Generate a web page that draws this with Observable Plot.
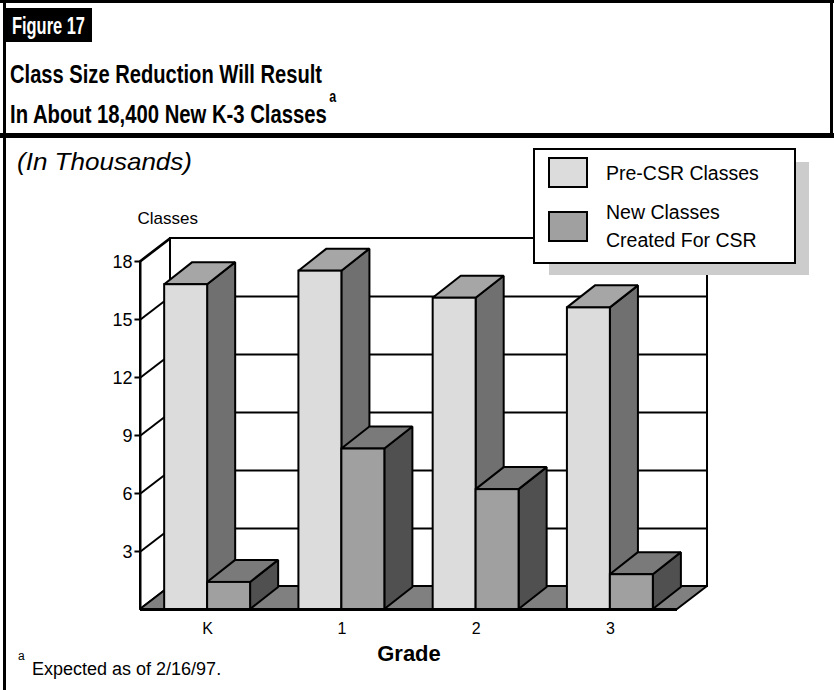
<!DOCTYPE html>
<html><head><meta charset="utf-8">
<script src="https://cdn.jsdelivr.net/npm/d3@7"></script>
<script src="https://cdn.jsdelivr.net/npm/@observablehq/plot@0.6"></script>
<style>
body{margin:0;background:#fff;}
#wrap{position:relative;width:834px;height:690px;overflow:hidden;font-family:"Liberation Sans",Arial,Helvetica,sans-serif;background:#fff;}
#chart{position:absolute;left:0;top:0;}
#deco{position:absolute;left:0;top:0;pointer-events:none;}
</style></head><body>
<div id="wrap">
<div id="chart"></div>
<svg id="deco" width="834" height="690" font-family="Liberation Sans, Arial, Helvetica, sans-serif">
  <rect x="0" y="0" width="834" height="3" fill="#000"/>
  <rect x="3" y="0" width="3" height="690" fill="#000"/>
  <rect x="830" y="0" width="3" height="137" fill="#000"/>
  <rect x="0" y="133" width="834" height="5" fill="#000"/>
  <rect x="3" y="8" width="89" height="34" fill="#000"/>
  <text x="12" y="34" fill="#fff" font-size="23" font-weight="bold" textLength="73" lengthAdjust="spacingAndGlyphs">Figure 17</text>
  <text transform="translate(10,83) scale(0.775,1)" font-size="26" font-weight="bold">Class Size Reduction Will Result</text>
  <text transform="translate(10,123) scale(0.78,1)" font-size="26" font-weight="bold">In About 18,400 New K-3 Classes<tspan dx="3" dy="-21" font-size="16">a</tspan></text>
  <text x="17" y="170" font-size="24" font-style="italic" textLength="175" lengthAdjust="spacingAndGlyphs">(In Thousands)</text>
  <rect x="549" y="162" width="260" height="113" fill="#cccccc"/>
  <rect x="534" y="149" width="261" height="114" fill="#fff" stroke="#000" stroke-width="2"/>
  <g id="legend"></g>
  <text x="18" y="675" font-size="18"><tspan dy="-15" font-size="12">a</tspan><tspan x="32" y="675">Expected as of 2/16/97.</tspan></text>
</svg>
</div>
<script>
// ---- data ----
const grades = ["K", "1", "2", "3"];
const preCSR = [16.8, 17.5, 16.1, 15.6];     // thousands of classes
const newCSR = [1.4, 8.3, 6.2, 1.8];        // thousands of classes
const yTicks = [3, 6, 9, 12, 15, 18];
const seriesNames = ["Pre-CSR Classes", "New Classes\nCreated For CSR"];

// ---- styling constants ----
const preColors = {front: "#dcdcdc", top: "#a6a6a6", side: "#707070"};
const newColors = {front: "#a0a0a0", top: "#7a7a7a", side: "#505050"};
const W = 0.32;                  // bar width (x units)
const BDX = 0.209, BDY = 1.14;   // bar depth offset
const WDX = 0.2235, WDY = 1.19;  // wall depth offset
const TICK = 0.045;              // tick length (x units)
const X0 = -0.5, X1 = 3.5, YMAX = 18;

// ---- derived tables ----
function faces(values, off) {
  const front = values.map((v, i) => ({k: i, x1: i + off, x2: i + off + W, y1: 0, y2: v}));
  const side = values.flatMap((v, i) => [
    {k: i, x: i + off + W, y1: 0, y2: v},
    {k: i, x: i + off + W + BDX, y1: BDY, y2: v + BDY}
  ]);
  const top = values.flatMap((v, i) => [
    {k: i, y: v, x1: i + off, x2: i + off + W},
    {k: i, y: v + BDY, x1: i + off + BDX, x2: i + off + W + BDX}
  ]);
  return {front, side, top};
}
const pre = faces(preCSR, -W);
const nw = faces(newCSR, 0);

function barMarks(f, c) {
  const s = {stroke: "black", strokeWidth: 2, strokeLinejoin: "miter"};
  return [
    Plot.areaY(f.side, {x: "x", y1: "y1", y2: "y2", z: "k", fill: c.side, ...s}),
    Plot.areaX(f.top, {y: "y", x1: "x1", x2: "x2", z: "k", fill: c.top, ...s}),
    Plot.rect(f.front, {x1: "x1", x2: "x2", y1: "y1", y2: "y2", fill: c.front, ...s})
  ];
}

const backGrid = yTicks.filter(t => t < YMAX);
const chart = Plot.plot({
  width: 834, height: 690,
  marginLeft: 140, marginRight: 157, marginTop: 261, marginBottom: 81,
  x: {type: "linear", domain: [X0, X1], axis: null},
  y: {type: "linear", domain: [0, YMAX], axis: null},
  style: {fontFamily: "Liberation Sans, Arial, Helvetica, sans-serif", color: "black", background: "transparent", overflow: "visible"},
  marks: [
    // back wall
    Plot.rect([0], {x1: X0 + WDX, x2: X1 + WDX, y1: WDY, y2: YMAX + WDY, fill: "white", stroke: "black", strokeWidth: 2}),
    Plot.ruleY(backGrid, {y: d => d + WDY, x1: X0 + WDX, x2: X1 + WDX, stroke: "black", strokeWidth: 2}),
    // left wall
    Plot.areaY([{x: X0, y1: 0, y2: YMAX}, {x: X0 + WDX, y1: WDY, y2: YMAX + WDY}], {x: "x", y1: "y1", y2: "y2", fill: "white", stroke: "black", strokeWidth: 2}),
    Plot.link(yTicks, {x1: X0, y1: d => d, x2: X0 + WDX, y2: d => d + WDY, stroke: "black", strokeWidth: 2}),
    // floor
    Plot.areaX([{y: 0, x1: X0, x2: X1}, {y: WDY, x1: X0 + WDX, x2: X1 + WDX}], {y: "y", x1: "x1", x2: "x2", fill: "#808080", stroke: "black", strokeWidth: 2}),
    // bars
    ...barMarks(pre, preColors),
    ...barMarks(nw, newColors),
    Plot.ruleY([0], {x1: X0, x2: X1, stroke: "black", strokeWidth: 3}),
    Plot.ruleX([X0], {y1: 0, y2: YMAX, stroke: "black", strokeWidth: 2}),
    // y axis ticks and labels
    Plot.link(yTicks, {x1: X0 - TICK, x2: X0, y1: d => d, y2: d => d, stroke: "black", strokeWidth: 2}),
    Plot.text(yTicks, {x: X0 - TICK, y: d => d, dx: -2, dy: 1, textAnchor: "end", lineAnchor: "middle", fontSize: 18}),
    // x labels
    Plot.text(grades, {x: (d, i) => i, y: 0, dy: 19, lineAnchor: "middle", fontSize: 16}),
    Plot.text(["Grade"], {frameAnchor: "bottom", dy: 44, lineAnchor: "middle", fontWeight: "bold", fontSize: 22}),
    Plot.text(["Classes"], {frameAnchor: "top-left", dx: -3, dy: -43, lineAnchor: "middle", textAnchor: "start", fontSize: 17})
  ]
});
document.getElementById("chart").appendChild(chart);

// legend
const lg = d3.select("#legend");
const swatches = [
  {y: 158, fill: preColors.front, lines: [seriesNames[0]], ty: 180},
  {y: 212, fill: newColors.front, lines: seriesNames[1].split("\n"), ty: 219}
];
swatches.forEach(s => {
  lg.append("rect").attr("x", 549).attr("y", s.y).attr("width", 38).attr("height", 29)
    .attr("fill", s.fill).attr("stroke", "#000").attr("stroke-width", 2);
  s.lines.forEach((t, j) => {
    lg.append("text").attr("x", 606).attr("y", s.ty + j * 28).attr("font-size", 19.5).text(t);
  });
});
</script>
</body></html>
